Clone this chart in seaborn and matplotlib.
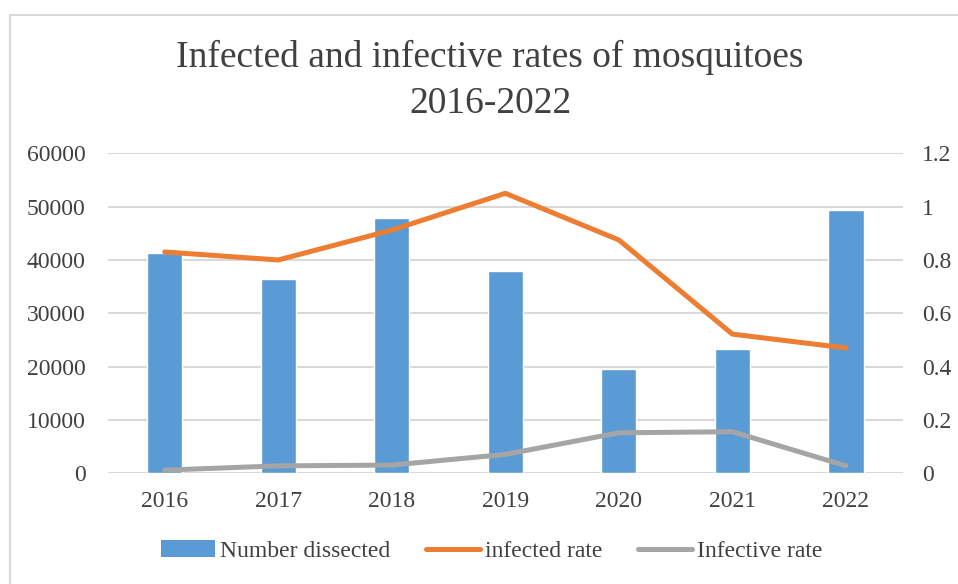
import numpy as np
import pandas as pd
import seaborn as sns
import matplotlib.pyplot as plt
from matplotlib.patches import Patch, Rectangle
from matplotlib.lines import Line2D

# values
years = ["2016", "2017", "2018", "2019", "2020", "2021", "2022"]
number_dissected = [41250, 36500, 47900, 37900, 19600, 23400, 49300]
infected_rate = [0.83, 0.80, 0.912, 1.05, 0.875, 0.522, 0.47]
infective_rate = [0.012, 0.028, 0.031, 0.071, 0.152, 0.156, 0.028]

BLUE = "#5B9BD5"
ORANGE = "#ED7D31"
GREY = "#A5A5A5"
TEXT = "#404040"
GRID = "#D9D9D9"

sns.set_theme(style="white")
plt.rcParams["font.family"] = ["Liberation Serif", "DejaVu Serif"]

df = pd.DataFrame({"year": years, "n": number_dissected,
                   "infected": infected_rate, "infective": infective_rate})
df["pos"] = np.arange(len(df))

fig = plt.figure(figsize=(9.58, 5.84), dpi=100)
ax = fig.add_axes([0.1127, 0.1895, 0.8296, 0.548])

sns.barplot(data=df, x="year", y="n", color=BLUE, width=0.31, saturation=1,
            ax=ax, zorder=2)
ax.set_ylim(0, 60000)
ax.set_yticks(np.arange(0, 60001, 10000))
ax.set_xlim(-0.5, len(years) - 0.5)
ax.yaxis.grid(True, color=GRID, linewidth=1.5, zorder=0)
ax.set_axisbelow(True)
ax.set_xlabel("")
ax.set_ylabel("")

ax2 = ax.twinx()
sns.lineplot(data=df, x="pos", y="infected", color=ORANGE, linewidth=3.6,
             ax=ax2, solid_capstyle="round")
sns.lineplot(data=df, x="pos", y="infective", color=GREY, linewidth=3.6,
             ax=ax2, solid_capstyle="round")
ax2.set_ylim(0, 1.2)
ax2.set_yticks([0, 0.2, 0.4, 0.6, 0.8, 1.0, 1.2])
ax2.set_yticklabels(["0", "0.2", "0.4", "0.6", "0.8", "1", "1.2"])
ax2.set_xlim(-0.5, len(years) - 0.5)
ax2.set_xlabel("")
ax2.set_ylabel("")

for a in (ax, ax2):
    for s in a.spines.values():
        s.set_visible(False)
    a.tick_params(length=0, labelsize=17, labelcolor=TEXT)
ax.tick_params(axis="y", pad=16)
ax.tick_params(axis="x", pad=13)
ax2.tick_params(axis="y", pad=14)

# two-line title
fig.text(0.5115, 1 - 67 / 584, "Infected and infective rates of mosquitoes",
         ha="center", va="baseline", fontsize=27, color=TEXT)
fig.text(0.5115, 1 - 113 / 584, "2016-2022",
         ha="center", va="baseline", fontsize=27, color=TEXT)

handles = [Patch(facecolor=BLUE, edgecolor="none"),
           Line2D([], [], color=ORANGE, linewidth=3.6, solid_capstyle="round"),
           Line2D([], [], color=GREY, linewidth=3.6, solid_capstyle="round")]
labels = ["Number dissected", "infected rate", "Infective rate"]
fig.legend(handles, labels, loc="center", bbox_to_anchor=(0.513, 0.0565),
           ncol=3, frameon=False, fontsize=17, handlelength=2.3,
           handletextpad=0.2, columnspacing=1.5, labelcolor=TEXT)

# chart-area border
fig.patches.append(Rectangle((10 / 958, -0.1), 1.2, 1 - 15 / 584 + 0.1,
                             transform=fig.transFigure, fill=False,
                             edgecolor=GRID, linewidth=1.5))

fig.savefig("out.png", dpi=100)
